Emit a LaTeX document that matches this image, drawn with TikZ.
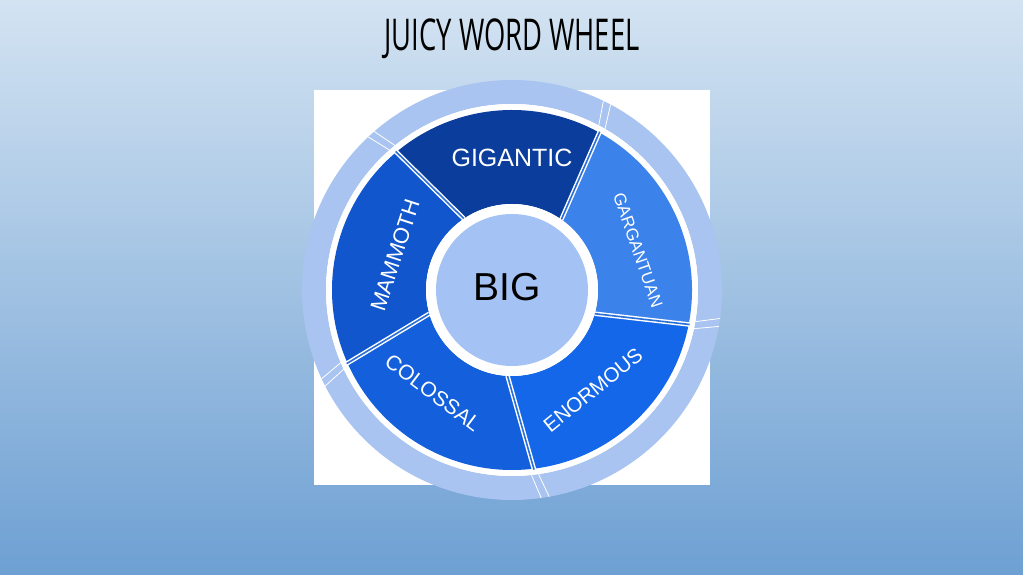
\documentclass[tikz,border=0pt]{standalone}
\usepackage{fontspec}
\setmainfont{Liberation Sans}
\newfontfamily\titlefont{Open Sans}
\usepackage{graphicx}
\definecolor{bgtop}{HTML}{D3E3F2}
\definecolor{bgmid}{HTML}{A6C7E7}
\definecolor{bgbot}{HTML}{6EA0D3}
\definecolor{gig}{HTML}{0B3E9C}
\definecolor{mam}{HTML}{1156CC}
\definecolor{col}{HTML}{1460DC}
\definecolor{eno}{HTML}{1467E8}
\definecolor{gar}{HTML}{3B82EA}
\definecolor{ringc}{HTML}{A9C4F0}
\definecolor{hub}{HTML}{A4C2F4}
\definecolor{sepc}{HTML}{2A6FD8}
\tikzset{
  word/.style={text=white, inner sep=0pt},
  sepw/.style={white, line width=4.5pt},
  sepb/.style={sepc, line width=1.6pt},
  ringline/.style={white, line width=0.8pt},
}
\newcommand{\wseg}[5]{% color, Pin, Pout, Qin, Qout
  \fill[#1] (#2:86) -- (#3:180) arc[start angle=#3, end angle=#5, radius=180] -- (#4:86) arc[start angle=#4, end angle=#2, radius=86] -- cycle;}
\begin{document}
\begin{tikzpicture}[x=1pt,y=1pt]
\useasboundingbox (0,0) rectangle (1023,575);
\shade[top color=bgtop, middle color=bgmid, bottom color=bgbot] (0,0) rectangle (1023,575);
\fill[white] (314,90) rectangle (710,485);
\node[font=\titlefont, inner sep=0pt] (title) at (512,536) {\resizebox*{255pt}{40pt}{JUICY WORD WHEEL}};
\begin{scope}[shift={(512,285)}]
  % outer ring
  \fill[ringc, even odd rule] (0,0) circle[radius=210] (0,0) circle[radius=186];
  \foreach \a in {61,130,204,277,349} {
    \draw[ringline] (\a-1:186) -- (\a+1:210);
    \draw[ringline] (\a+1.2:186) -- (\a+3.2:210);
  }
  \fill[white] (0,0) circle[radius=186];
  % segments
  \wseg{gar}{-16}{-11}{55}{61}
  \wseg{gig}{55}{61}{124}{130}
  \wseg{mam}{124}{130}{196}{204}
  \wseg{col}{196}{204}{267}{277}
  \wseg{eno}{267}{277}{344}{349}
  % separators
  \foreach \i/\o in {55/61,124/130,196/204,267/277,-16/-11} {
    \draw[sepw] (\i:86) -- (\o:181);
    \draw[sepb] (\i:86) -- (\o:181);
  }
  % hub
  \fill[white] (0,0) circle[radius=86];
  \fill[hub] (0,0) circle[radius=76];
  \node[inner sep=0pt, font=\fontsize{39}{39}\selectfont] (big) at (-5,3) {BIG};
  \node[word, font=\fontsize{25}{25}\selectfont] (gigantic) at (0,132) {GIGANTIC};
  \node[word, font=\fontsize{22}{22}\selectfont, rotate=72] (mammoth) at (-117,35) {MAMMOTH};
  \node[word, font=\fontsize{17}{17}\selectfont, rotate=-71] (gargantuan) at (126,40) {GARGANTUAN};
  \node[word, font=\fontsize{21}{21}\selectfont, rotate=-37] (colossal) at (-79,-103) {COLOSSAL};
  \node[word, font=\fontsize{20.5}{20.5}\selectfont, rotate=39] (enormous) at (81,-100) {ENORMOUS};
\end{scope}
\end{tikzpicture}
\end{document}
